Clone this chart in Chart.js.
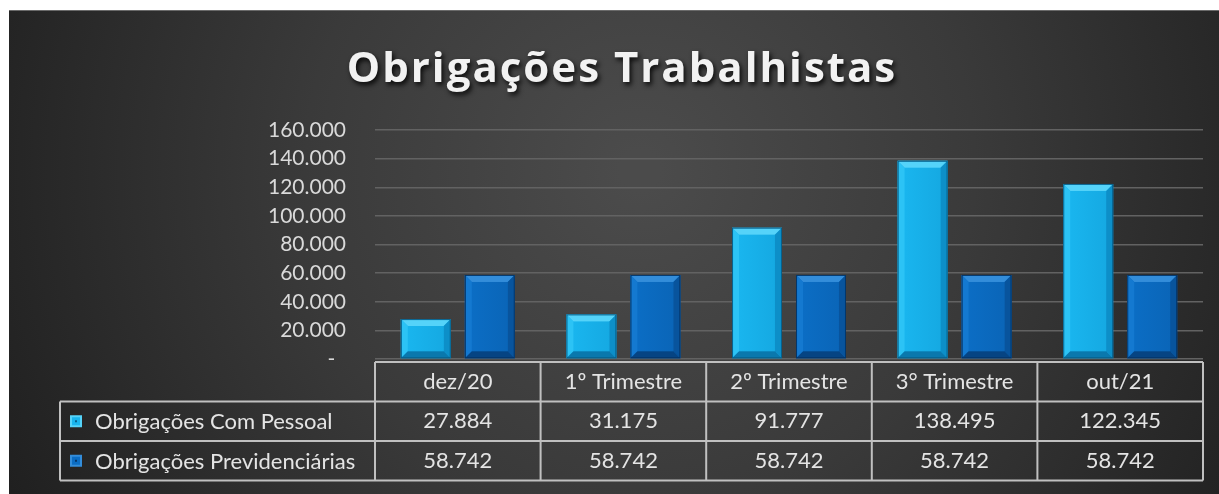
<!DOCTYPE html>
<html>
<head>
<meta charset="utf-8">
<script src="https://cdn.jsdelivr.net/npm/chart.js@4.4.0/dist/chart.umd.min.js"></script>
<style>
    html, body { margin: 0; padding: 0; background: #ffffff; }
    #wrap { position: absolute; left: 0; top: 0; width: 1219px; height: 494px; }
</style>
</head>
<body>
<div id="wrap"><canvas id="chart" width="1219" height="494"></canvas></div>
<script>
// chart data
var chartTitle = 'Obrigações Trabalhistas';
var categories = ['dez/20', '1º Trimestre', '2º Trimestre', '3° Trimestre', 'out/21'];
var seriesNames = ['Obrigações Com Pessoal', 'Obrigações Previdenciárias'];
var pessoal = [27884, 31175, 91777, 138495, 122345];
var previdenciarias = [58742, 58742, 58742, 58742, 58742];
var yMin = 0;
var yMax = 160000;
var yStep = 20000;

// colours for the two series: face, top, left, right, bottom bevels
var palettes = [
    { face: '#19b5ee', top: '#55d3f9', left: '#2cc3f5', right: '#0d8fc8', bottom: '#0a78ad', edge: '#06608c' },
    { face: '#0b6dc4', top: '#338dda', left: '#1479d0', right: '#08549d', bottom: '#064483', edge: '#043568' }
];

function fmtNum(v) {
    if (v == 0) return '-  ';
    return String(v).replace(/\B(?=(\d{3})+(?!\d))/g, '.');
}

var textFont = 'Lato, "Open Sans", sans-serif';

// dark slate background with the thin white margin of the screenshot
var backgroundPlugin = {
    id: 'slateBackground',
    beforeDraw: function(chart) {
        var ctx = chart.ctx;
        ctx.save();
        ctx.fillStyle = '#ffffff';
        ctx.fillRect(0, 0, chart.width, chart.height);
        var grad = ctx.createRadialGradient(640, 170, 20, 640, 170, 720);
        grad.addColorStop(0, '#4b4b4b');
        grad.addColorStop(0.45, '#3a3a3a');
        grad.addColorStop(1, '#1f1f1f');
        ctx.fillStyle = grad;
        ctx.fillRect(9, 10, chart.width - 9, chart.height - 10);
        ctx.fillStyle = '#6a6a6a';
        ctx.fillRect(9, 10, chart.width - 9, 1);
        ctx.restore();
    }
};

// title with spaced letters and a soft shadow
var titlePlugin = {
    id: 'shadowTitle',
    afterDraw: function(chart) {
        var ctx = chart.ctx;
        ctx.save();
        ctx.font = 'bold 42px "Open Sans", sans-serif';
        if ('letterSpacing' in ctx) ctx.letterSpacing = '2px';
        ctx.textAlign = 'center';
        ctx.textBaseline = 'alphabetic';
        ctx.shadowColor = 'rgba(0,0,0,0.85)';
        ctx.shadowBlur = 5;
        ctx.shadowOffsetX = 2;
        ctx.shadowOffsetY = 3;
        ctx.fillStyle = '#f2f2f2';
        ctx.fillText(chartTitle, 622, 82);
        ctx.restore();
    }
};

// bevelled look on every bar, taken from the bar elements
var bevelPlugin = {
    id: 'bevelBars',
    afterDatasetsDraw: function(chart) {
        var ctx = chart.ctx;
        for (var d = 0; d < chart.data.datasets.length; d++) {
            var meta = chart.getDatasetMeta(d);
            var pal = palettes[d];
            for (var i = 0; i < meta.data.length; i++) {
                var p = meta.data[i].getProps(['x', 'y', 'base', 'width'], true);
                var l = p.x - p.width / 2, r = p.x + p.width / 2;
                var t = Math.min(p.y, p.base), b = Math.max(p.y, p.base);
                var bv = Math.min(7, (b - t) / 3);
                ctx.save();
                function poly(pts, col) {
                    ctx.beginPath();
                    ctx.moveTo(pts[0][0], pts[0][1]);
                    for (var k = 1; k < pts.length; k++) ctx.lineTo(pts[k][0], pts[k][1]);
                    ctx.closePath();
                    ctx.fillStyle = col;
                    ctx.fill();
                }
                poly([[l, t], [r, t], [r - bv, t + bv], [l + bv, t + bv]], pal.top);
                poly([[l, t], [l + bv, t + bv], [l + bv, b - bv], [l, b]], pal.left);
                poly([[r, t], [r, b], [r - bv, b - bv], [r - bv, t + bv]], pal.right);
                poly([[l, b], [l + bv, b - bv], [r - bv, b - bv], [r, b]], pal.bottom);
                var g = ctx.createLinearGradient(l + bv, 0, r - bv, 0);
                g.addColorStop(0, pal.face);
                g.addColorStop(1, pal.right);
                ctx.globalAlpha = 0.3;
                ctx.fillStyle = g;
                ctx.fillRect(l + bv, t + bv, r - l - 2 * bv, b - t - 2 * bv);
                ctx.globalAlpha = 1;
                ctx.strokeStyle = pal.edge;
                ctx.lineWidth = 1;
                ctx.strokeRect(l + 0.5, t + 0.5, r - l - 1, b - t - 1);
                ctx.restore();
            }
        }
    }
};

// data table under the plot, columns follow the x scale
var tablePlugin = {
    id: 'dataTable',
    afterDraw: function(chart) {
        var ctx = chart.ctx;
        var xs = chart.scales.x;
        var n = categories.length;
        var colW = (xs.right - xs.left) / n;
        var top = chart.chartArea.bottom + 3;
        var rowH = 39.5;
        var legendLeft = 60;
        var rows = [pessoal, previdenciarias];

        ctx.save();
        ctx.strokeStyle = '#c0c0c0';
        ctx.lineWidth = 2;
        // horizontal lines
        ctx.beginPath();
        ctx.moveTo(xs.left, top); ctx.lineTo(xs.right, top);
        for (var r = 1; r <= 3; r++) {
            ctx.moveTo(legendLeft, top + r * rowH);
            ctx.lineTo(xs.right, top + r * rowH);
        }
        // vertical lines
        ctx.moveTo(legendLeft, top + rowH); ctx.lineTo(legendLeft, top + 3 * rowH);
        for (var c = 0; c <= n; c++) {
            var xx = xs.left + c * colW;
            ctx.moveTo(xx, top); ctx.lineTo(xx, top + 3 * rowH);
        }
        ctx.stroke();

        ctx.fillStyle = '#e4e4e4';
        ctx.font = '22px ' + textFont;
        ctx.textAlign = 'center';
        ctx.textBaseline = 'middle';
        for (var i = 0; i < n; i++) {
            var cx = xs.getPixelForValue(i);
            ctx.fillText(categories[i], cx, top + rowH / 2);
            for (var s = 0; s < rows.length; s++) {
                ctx.fillText(fmtNum(rows[s][i]), cx, top + rowH * (s + 1.5));
            }
        }
        // legend keys
        ctx.textAlign = 'left';
        for (var s = 0; s < seriesNames.length; s++) {
            var cy = top + rowH * (s + 1.5);
            var pal = palettes[s];
            ctx.fillStyle = pal.top;
            ctx.fillRect(70, cy - 6, 12, 12);
            ctx.fillStyle = pal.face;
            ctx.fillRect(72, cy - 4, 8, 8);
            ctx.fillStyle = pal.edge;
            ctx.fillRect(75, cy - 1, 2, 2);
            ctx.fillStyle = '#e4e4e4';
            ctx.fillText(seriesNames[s], 95, cy + 1);
        }
        ctx.restore();
    }
};

var ctx = document.getElementById('chart').getContext('2d');
var chart = new Chart(ctx, {
    type: 'bar',
    data: {
        labels: categories,
        datasets: [
            { label: seriesNames[0], data: pessoal, backgroundColor: palettes[0].face, borderWidth: 0 },
            { label: seriesNames[1], data: previdenciarias, backgroundColor: palettes[1].face, borderWidth: 0 }
        ]
    },
    options: {
        responsive: false,
        animation: false,
        devicePixelRatio: 1,
        categoryPercentage: 0.773,
        barPercentage: 0.78,
        layout: { padding: { left: 0, right: 16, top: 130, bottom: 135 } },
        plugins: {
            legend: { display: false },
            title: { display: false },
            tooltip: { enabled: false }
        },
        scales: {
            x: { display: false },
            y: {
                min: yMin,
                max: yMax,
                ticks: {
                    stepSize: yStep,
                    color: '#d9d9d9',
                    font: { family: textFont, size: 21 },
                    padding: 29,
                    callback: function(v) { return fmtNum(v); }
                },
                grid: { color: '#626262', lineWidth: 1.5, drawTicks: false },
                border: { display: false },
                afterFit: function(scale) { scale.width = 375; }
            }
        }
    },
    plugins: [backgroundPlugin, bevelPlugin, tablePlugin, titlePlugin]
});
</script>
</body>
</html>
